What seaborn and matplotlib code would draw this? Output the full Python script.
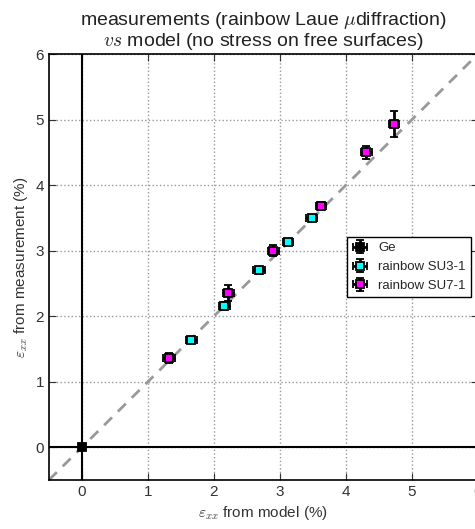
import numpy as np
import pandas as pd
import matplotlib
matplotlib.use("Agg")
import matplotlib.pyplot as plt
import seaborn as sns

# data
ge_model = [0.0]
ge_meas = [0.0]
ge_xerr = [0.0]
ge_yerr = [0.0]

su3_model = [1.66, 2.16, 2.68, 3.12, 3.48]
su3_meas = [1.64, 2.16, 2.70, 3.13, 3.50]
su3_xerr = [0.09, 0.08, 0.09, 0.08, 0.08]
su3_yerr = [0.05, 0.06, 0.05, 0.05, 0.05]

su7_model = [1.32, 2.22, 2.90, 3.62, 4.31, 4.73]
su7_meas = [1.36, 2.36, 3.00, 3.68, 4.50, 4.93]
su7_xerr = [0.09, 0.08, 0.08, 0.08, 0.08, 0.07]
su7_yerr = [0.08, 0.12, 0.08, 0.06, 0.10, 0.20]

diag = [-0.5, 6.0]

sns.set_style("ticks")
plt.rcParams["font.family"] = ["Liberation Sans", "DejaVu Sans"]
plt.rcParams["mathtext.fontset"] = "cm"

fig = plt.figure(figsize=(4.75, 5.29), dpi=100)
ax = fig.add_axes([0.103, 0.0926, 0.903, 0.805])

ax.grid(True, linestyle=":", color="#999999", linewidth=1)
ax.axhline(0, color="black", lw=1.5, zorder=1)
ax.axvline(0, color="black", lw=1.5, zorder=1)
sns.lineplot(x=diag, y=diag, ax=ax, color="#999999", lw=2, linestyle=(0, (4, 3)), zorder=2)

groups = [
    ("Ge", ge_model, ge_meas, ge_xerr, ge_yerr, "black"),
    ("rainbow SU3-1", su3_model, su3_meas, su3_xerr, su3_yerr, "cyan"),
    ("rainbow SU7-1", su7_model, su7_meas, su7_xerr, su7_yerr, "magenta"),
]
handles = []
for name, xm, ym, xe, ye, col in groups:
    h = ax.errorbar(xm, ym, xerr=xe, yerr=ye, fmt="s", color="black",
                    mfc=col, mec="black", mew=1.3, ms=5.8, elinewidth=2,
                    capsize=3, capthick=1.5, zorder=3, label=name)
    handles.append(h)

ax.set_xlim(-0.5, 6)
ax.set_ylim(-0.5, 6)
ax.set_xticks(range(0, 7))
ax.set_yticks(range(0, 7))
ax.tick_params(direction="in", top=True, right=True, labelsize=11, length=5,
               colors="#333333", labelcolor="#333333")
for s in ax.spines.values():
    s.set_color("black")
    s.set_linewidth(1.2)

ax.set_xlabel(r"$\varepsilon_{xx}$ from model (%)", fontsize=11, color="#333333")
ax.set_ylabel(r"$\varepsilon_{xx}$ from measurement (%)", fontsize=11, color="#333333")
ax.set_title("measurements (rainbow Laue $\\mu$diffraction)\n$vs$ model (no stress on free surfaces)",
             fontsize=14, color="#222222", linespacing=1.0)

ax.legend(handles=handles, loc="center right", fontsize=9.5, numpoints=1,
          frameon=True, fancybox=False, edgecolor="black", framealpha=1,
          handlelength=1.2)

fig.savefig("out.png", dpi=100)
